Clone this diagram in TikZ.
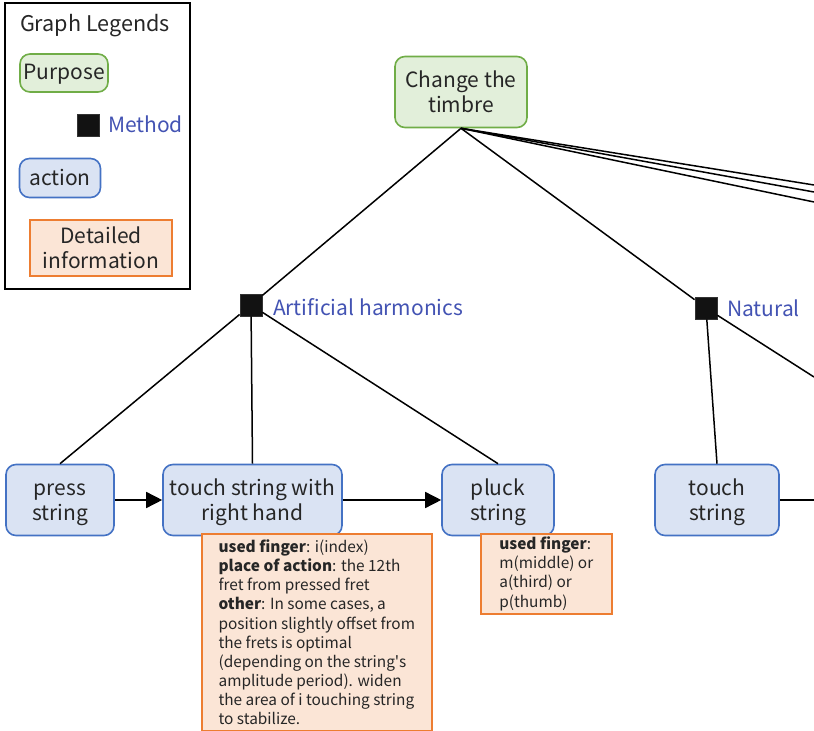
\documentclass[tikz,border=0pt]{standalone}
\usepackage{fontspec}
\setmainfont{Noto Sans CJK JP}
\usetikzlibrary{arrows.meta}

\definecolor{purposefill}{HTML}{E2EFDA}
\definecolor{purposeline}{HTML}{70AD47}
\definecolor{actionfill}{HTML}{DAE3F3}
\definecolor{actionline}{HTML}{4472C4}
\definecolor{detailfill}{HTML}{FBE5D6}
\definecolor{detailline}{HTML}{ED7D31}
\definecolor{methodtext}{HTML}{4353B3}
\definecolor{nodetext}{HTML}{262626}

\begin{document}
\begin{tikzpicture}[x=0.5pt, y=-0.5pt,
  purpose/.style={draw=purposeline, fill=purposefill, line width=0.8pt, rounded corners=5pt,
    inner sep=0pt, align=center, text=nodetext, font=\fontsize{10.5}{12.5}\selectfont},
  action/.style={draw=actionline, fill=actionfill, line width=0.8pt, rounded corners=5pt,
    inner sep=0pt, align=center, text=nodetext, font=\fontsize{10.5}{12.5}\selectfont},
  twoline/.style={text height=24.5pt, text depth=3.5pt},
  detail/.style={draw=detailline, fill=detailfill, line width=0.8pt, anchor=north west,
    inner xsep=6pt, inner ysep=1pt, align=left, text=nodetext, font=\fontsize{7.7}{9.55}\selectfont},
  method/.style={draw=black!80, fill=black!93, minimum size=11pt, inner sep=0pt},
  methodlabel/.style={anchor=west, text=methodtext, font=\fontsize{10.5}{12.5}\selectfont},
  link/.style={line width=0.75pt},
  flow/.style={line width=0.75pt, -{Triangle[length=8pt, width=8pt]}}]
    \useasboundingbox (0,0) rectangle (814,731);

    % Legend
    \draw[line width=0.8pt] (5,3) rectangle (190,289);
    \node[anchor=west, text=nodetext, font=\fontsize{10.8}{12.5}\selectfont] (legend) at (13,26) {Graph Legends};
    \node[purpose, minimum width=44pt, minimum height=19pt, text depth=1pt] (legpurpose) at (64,73) {Purpose};
    \node[method] (legmethod) at (88,125) {};
    \node[methodlabel] (legmethodtext) at (101,124) {Method};
    \node[action, minimum width=40.5pt, minimum height=19.5pt] (legaction) at (60,178) {action};
    \node[detail, anchor=center, align=center, inner sep=0pt, minimum width=71pt, minimum height=27.5pt,
          twoline, font=\fontsize{10.5}{12.5}\selectfont] (legdetail) at (101,248) {Detailed\\information};

    % Purpose
    \node[purpose, twoline, minimum width=66pt, minimum height=35.5pt] (timbre) at (461,92) {Change the\\timbre};

    % Methods
    \node[method] (art) at (251,305) {};
    \node[methodlabel] (arttext) at (266,307) {Artificial harmonics};
    \node[method] (nat) at (706,308) {};
    \node[methodlabel] (nattext) at (720,308) {Natural};

    % Actions
    \node[action, twoline, minimum width=54pt, minimum height=35.5pt] (press) at (60,500) {press\\string};
    \node[action, twoline, minimum width=89.5pt, minimum height=35.5pt] (touchrh) at (252.5,500) {touch string with\\right hand};
    \node[action, twoline, minimum width=56pt, minimum height=35.5pt] (pluck) at (498,500) {pluck\\string};
    \node[action, twoline, minimum width=62pt, minimum height=35.5pt] (touch) at (717,500) {touch\\string};

    % Details
    \node[detail, minimum width=115pt, minimum height=98.5pt] (touchrhinfo) at (201,533)
      {\textbf{used finger}: i(index)\\
       \textbf{place of action}: the 12th\\
       fret from pressed fret\\
       \textbf{other}: In some cases, a\\
       position slightly offset from\\
       the frets is optimal\\
       (depending on the string\textquotesingle s\\
       amplitude period). widen\\
       the area of i touching string\\
       to stabilize.};
    \node[detail, minimum width=65.5pt, minimum height=40pt] (pluckinfo) at (480,533)
      {\textbf{used finger}:\\
       m(middle) or\\
       a(third) or\\
       p(thumb)};

    % Connections
    \draw[link] (timbre.south) -- (art);
    \draw[link] (timbre.south) -- (nat);
    \foreach \y [count=\k] in {185, 192, 202} {
      \coordinate (far\k) at (814,\y);
      \draw[link] (timbre.south) -- (far\k);
    }
    \foreach \a in {press, touchrh, pluck} {
      \draw[link] (art) -- (\a.north);
    }
    \draw[link] (nat) -- (touch.north);
    \coordinate (natfar) at (814,377);
    \draw[link] (nat) -- (natfar);

    % Order of actions
    \draw[flow] (press) -- (touchrh);
    \draw[flow] (touchrh) -- (pluck);
    \coordinate (touchfar) at (814,500);
    \draw[link] (touch) -- (touchfar);
\end{tikzpicture}
\end{document}
